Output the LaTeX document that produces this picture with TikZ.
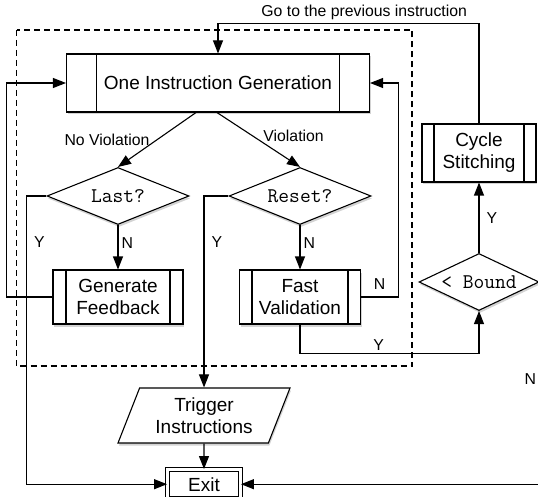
\documentclass[tikz,border=0pt]{standalone}
\usepackage{fontspec}
\setmainfont{Liberation Sans}
\usetikzlibrary{arrows.meta,shapes.geometric,shadows}

\begin{document}
\begin{tikzpicture}[x=1pt,y=-1pt,line width=1.1pt,
  >={Triangle[length=13pt,width=10pt]},
  box/.style={draw,fill=white,align=center,inner sep=0pt,
    font=\fontsize{19}{22}\selectfont,
    drop shadow={shadow xshift=1pt,shadow yshift=-2.5pt,opacity=0.35}},
  proc/.style={box,rectangle,path picture={
    \draw ([xshift=#1]path picture bounding box.north west) -- ([xshift=#1]path picture bounding box.south west)
      ([xshift=-#1]path picture bounding box.north east) -- ([xshift=-#1]path picture bounding box.south east);}},
  proc/.default=12pt,
  test/.style={box,diamond,aspect=2.5,font=\ttfamily\fontsize{20.9}{24}\selectfont,minimum width=142pt,minimum height=57pt},
  lbl/.style={font=\fontsize{15.8}{18}\selectfont,inner sep=3pt}]
   \useasboundingbox (0,0) rectangle (538,497);
   \draw[dashed,dash pattern=on 6pt off 4pt] (16.5,30) rectangle (412,366);

   \node[proc=30pt,minimum width=303pt,minimum height=58pt] (gen) at (218,83) {One Instruction Generation};
   \node[test] (last) at (118,196) {Last?};
   \node[test] (reset) at (300,196) {Reset?};
   \node[proc=13pt,minimum width=130pt,minimum height=54pt] (feedback) at (118,297) {Generate\\Feedback};
   \node[proc=12.5pt,minimum width=121pt,minimum height=54pt] (fastval) at (300,297) {Fast\\Validation};
   \node[test,minimum width=120pt,aspect=2.1] (bound) at (479,282) {< Bound};
   \node[proc,minimum width=114pt,minimum height=58pt] (cycle) at (479,153) {Cycle\\Stitching};
   \node[box,trapezium,trapezium left angle=59,trapezium right angle=121,trapezium stretches body,
     minimum width=172pt,minimum height=55pt] (trigger) at (204,415.5) {Trigger\\Instructions};
   \node[box,double,double distance=3pt,minimum width=72.8pt,minimum height=29.2pt] (exit) at (204,484.2) {Exit};

   \draw[->] (cycle.north) -- ++(0,-100) -| node[lbl,above,pos=0.22] {Go to the previous instruction} (gen.north);
   \draw[->] ([xshift=-22pt]gen.south) -- node[lbl,left=4pt,pos=0.5] {No Violation} (last.north);
   \draw[->] ([xshift=-1pt]gen.south) -- node[lbl,right=8pt,pos=0.42] {Violation} (reset.north);
   \draw[->] (last.south) -- node[lbl,right,pos=0.4] {N} (feedback.north);
   \draw[->] (last.west) -- ++(-20,0) |- node[lbl,right=4pt,pos=0.08] {Y} (exit.west);
   \draw[->] (feedback.west) -- ++(-46,0) |- (gen.west);
   \draw[->] (reset.south) -- node[lbl,right,pos=0.4] {N} (fastval.north);
   \draw[->] (reset.west) -| node[lbl,right=4pt,pos=0.62] {Y} (trigger.north);
   \draw[->] (fastval.east) -- node[lbl,above=4pt] {N} ++(37,0) |- (gen.east);
   \draw[->] (fastval.south) -- ++(0,29) -| node[lbl,above,pos=0.22] {Y} (bound.south);
   \draw[->] (bound.north) -- node[lbl,right=4pt] {Y} (cycle.south);
   \draw[->] (bound.east) -- ++(6,0) |- node[lbl,left=6pt,pos=0.24] {N} (exit.east);
   \draw[->] (trigger.south) -- (exit.north);
\end{tikzpicture}
\end{document}
